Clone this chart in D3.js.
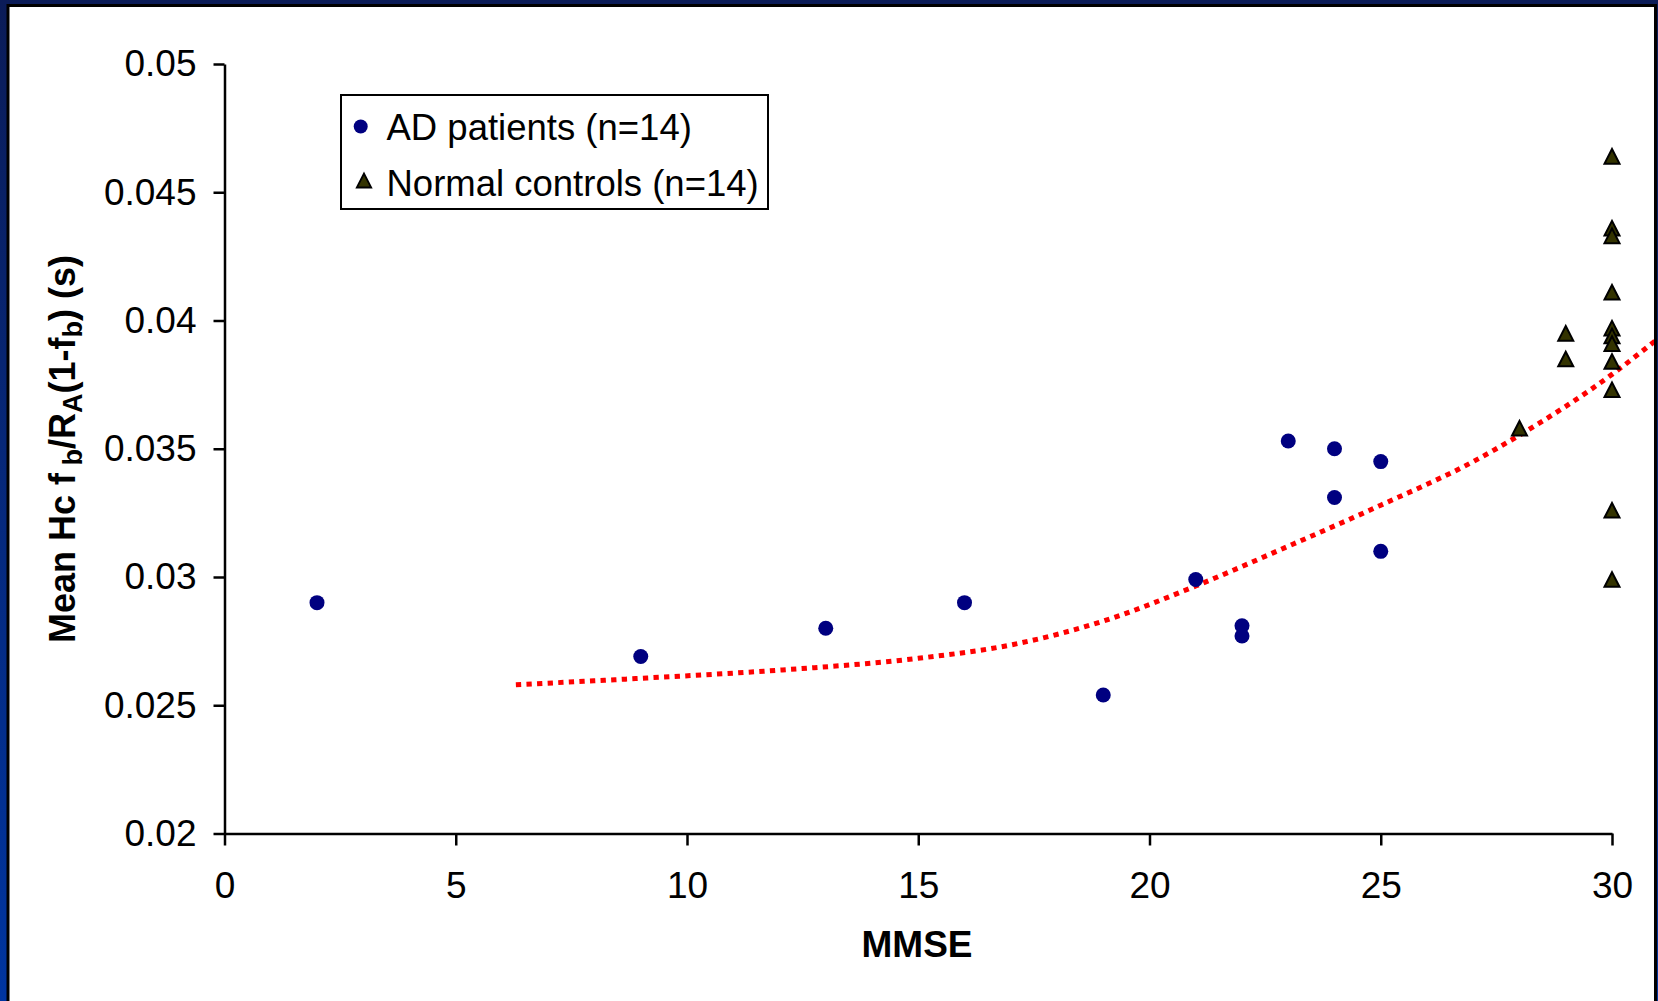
<!DOCTYPE html>
<html>
<head>
<meta charset="utf-8">
<script src="https://cdn.jsdelivr.net/npm/d3@7"></script>
<style>
    html, body { margin: 0; padding: 0; background: #0a1f5c; overflow: hidden; }
    svg { display: block; font-family: "Liberation Sans", Arial, sans-serif; }
    .axis path, .axis line { stroke: #000; stroke-width: 2.5px; }
    .axis text { font-size: 37px; fill: #000; }
</style>
</head>
<body>
<svg id="chart" width="1658" height="1001"></svg>
<script>
"use strict";

//  Data  ---
var adMmse = [2, 9, 13, 16, 19, 21, 22, 22, 23, 24, 24, 25, 25];
var adValues = [0.0290, 0.0269, 0.0280, 0.0290, 0.0254, 0.0299, 0.0281, 0.0277, 0.0353, 0.0350, 0.0331, 0.0345, 0.0310];

var ncMmse = [28, 29, 29, 30, 30, 30, 30, 30, 30, 30, 30, 30, 30, 30];
var ncValues = [0.0358, 0.0395, 0.0385, 0.0464, 0.0436, 0.0433, 0.0411, 0.0397, 0.0394, 0.0391, 0.0384, 0.0373, 0.0326, 0.0299];

// trend line
var trendMmse = [6.3, 9, 12, 15, 17, 19, 21, 23, 25, 27, 28, 30, 31];
var trendValues = [0.0258, 0.02605, 0.02637, 0.02683, 0.02735, 0.02828, 0.02965, 0.0312, 0.0328, 0.0345, 0.03553, 0.0379, 0.0393];

var xTicks = [0, 5, 10, 15, 20, 25, 30];
var yTicks = [0.02, 0.025, 0.03, 0.035, 0.04, 0.045, 0.05];
var yTickLabels = ["0.02", "0.025", "0.03", "0.035", "0.04", "0.045", "0.05"];

var legendLabels = ["AD patients (n=14)", "Normal controls (n=14)"];

//  Layout  ---
var svg = d3.select("#chart");
var W = 1658, H = 1001;

var x = d3.scaleLinear().domain([0, 30]).range([224.5, 1612]);
var y = d3.scaleLinear().domain([0.02, 0.05]).range([833.5, 64]);

var defs = svg.append("defs");
var grad = defs.append("linearGradient")
    .attr("id", "bg")
    .attr("x1", 0).attr("y1", 0).attr("x2", 0).attr("y2", 1);
grad.append("stop").attr("offset", "0%").attr("stop-color", "#0b1c58");
grad.append("stop").attr("offset", "100%").attr("stop-color", "#0035a0");

defs.append("clipPath")
    .attr("id", "frameClip")
    .append("rect")
    .attr("x", 10).attr("y", 7).attr("width", 1644).attr("height", H);

svg.append("rect")
    .attr("width", W).attr("height", H)
    .attr("fill", "url(#bg)");

svg.append("rect")
    .attr("x", 8).attr("y", 5.5)
    .attr("width", 1647.5).attr("height", H + 20)
    .attr("fill", "#fff")
    .attr("stroke", "#000")
    .attr("stroke-width", 3);

//  Axes  ---
svg.append("g")
    .attr("class", "axis")
    .attr("transform", "translate(0," + y(0.02) + ")")
    .call(d3.axisBottom(x)
        .tickValues(xTicks)
        .tickSize(12)
        .tickSizeOuter(0)
        .tickPadding(26)
        .tickFormat(d3.format("d")));

svg.append("g")
    .attr("class", "axis")
    .attr("transform", "translate(" + x(0) + ",0)")
    .call(d3.axisLeft(y)
        .tickValues(yTicks)
        .tickSize(11)
        .tickSizeOuter(0)
        .tickPadding(17)
        .tickFormat(function (d, i) { return yTickLabels[i]; }));

//  Axis titles  ---
svg.append("text")
    .attr("x", 917)
    .attr("y", 957)
    .attr("text-anchor", "middle")
    .style("font-size", "37px")
    .style("font-weight", "bold")
    .text("MMSE");

var yTitle = svg.append("text")
    .attr("transform", "translate(75,449) rotate(-90)")
    .attr("text-anchor", "middle")
    .style("font-size", "36px")
    .style("font-weight", "bold");
var yParts = [
    ["Mean Hc f", false], [" b", true], ["/R", false], ["A", true],
    ["(1-f", false], ["b", true], [") (s)", false]
];
yParts.forEach(function (p, i) {
    var t = yTitle.append("tspan").text(p[0]);
    if (p[1]) {
        t.attr("dy", 7).style("font-size", "27px");
    } else if (i > 0) {
        t.attr("dy", -7);
    }
});

//  Trend line  ---
var trend = trendMmse.map(function (m, i) { return [m, trendValues[i]]; });
svg.append("path")
    .datum(trend)
    .attr("clip-path", "url(#frameClip)")
    .attr("fill", "none")
    .attr("stroke", "#ff0000")
    .attr("stroke-width", 5)
    .attr("stroke-dasharray", "5.3,5.3")
    .attr("d", d3.line()
        .curve(d3.curveMonotoneX)
        .x(function (d) { return x(d[0]); })
        .y(function (d) { return y(d[1]); }));

//  Markers  ---
var triPath = "M0,-7.3 L7.5,7.3 L-7.5,7.3 Z";

svg.append("g").selectAll("circle")
    .data(adMmse.map(function (m, i) { return [m, adValues[i]]; }))
    .enter().append("circle")
    .attr("cx", function (d) { return x(d[0]); })
    .attr("cy", function (d) { return y(d[1]); })
    .attr("r", 7.5)
    .attr("fill", "#000080");

svg.append("g").selectAll("path")
    .data(ncMmse.map(function (m, i) { return [m, ncValues[i]]; }))
    .enter().append("path")
    .attr("d", triPath)
    .attr("transform", function (d) { return "translate(" + x(d[0]) + "," + y(d[1]) + ")"; })
    .attr("fill", "#333300")
    .attr("stroke", "#000")
    .attr("stroke-width", 2);

//  Legend  ---
var legend = svg.append("g");
legend.append("rect")
    .attr("x", 341).attr("y", 95)
    .attr("width", 427).attr("height", 114)
    .attr("fill", "#fff")
    .attr("stroke", "#000")
    .attr("stroke-width", 2);

legend.append("circle")
    .attr("cx", 360.7).attr("cy", 126.5)
    .attr("r", 7)
    .attr("fill", "#000080");
legend.append("path")
    .attr("d", triPath)
    .attr("transform", "translate(364,180.5) scale(0.95)")
    .attr("fill", "#333300")
    .attr("stroke", "#000")
    .attr("stroke-width", 2);

legend.selectAll("text")
    .data(legendLabels)
    .enter().append("text")
    .attr("x", 386.5)
    .attr("y", function (d, i) { return i === 0 ? 139.5 : 196; })
    .style("font-size", "36.5px")
    .text(function (d) { return d; });
</script>
</body>
</html>
